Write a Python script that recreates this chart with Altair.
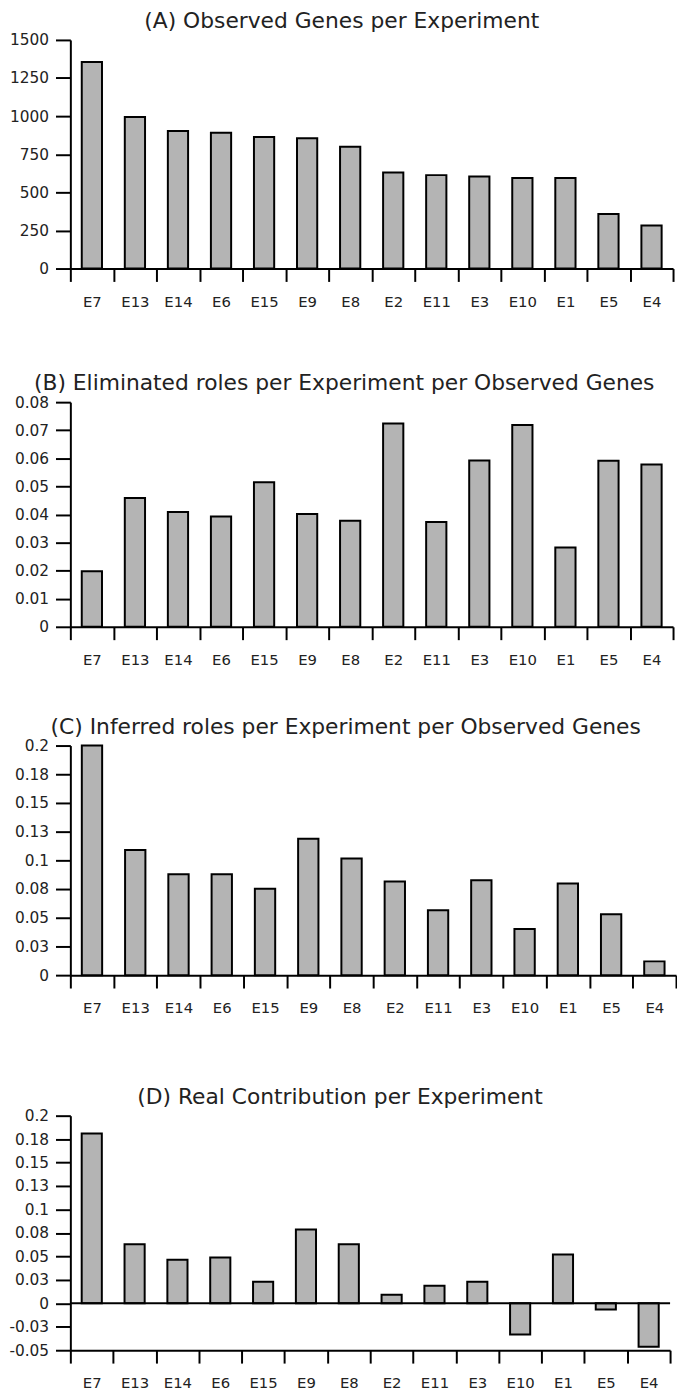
import altair as alt
import pandas as pd

experiments = ["E7", "E13", "E14", "E6", "E15", "E9", "E8", "E2", "E11", "E3", "E10", "E1", "E5", "E4"]

observed_genes = [1355, 995, 902, 891, 863, 855, 799, 630, 613, 604, 594, 594, 358, 283]
eliminated_roles = [0.0198, 0.0459, 0.0409, 0.0393, 0.0515, 0.0402, 0.0378, 0.0724, 0.0373,
                    0.0592, 0.0719, 0.0282, 0.0591, 0.0578]
inferred_roles = [0.2, 0.109, 0.0878, 0.0878, 0.0752, 0.1188, 0.1016, 0.0815, 0.0565,
                  0.0826, 0.0402, 0.0798, 0.0531, 0.012]
real_contribution = [0.181, 0.063, 0.0464, 0.0489, 0.023, 0.0786, 0.063, 0.0092, 0.0188,
                     0.023, -0.0333, 0.052, -0.0067, -0.0464]

titles = [
    "(A) Observed Genes per Experiment",
    "(B) Eliminated roles per Experiment per Observed Genes",
    "(C) Inferred roles per Experiment per Observed Genes",
    "(D) Real Contribution per Experiment",
]

a_ticks = [0, 250, 500, 750, 1000, 1250, 1500]
a_labels = ["0", "250", "500", "750", "1000", "1250", "1500"]
b_ticks = [0, 0.01, 0.02, 0.03, 0.04, 0.05, 0.06, 0.07, 0.08]
b_labels = ["0", "0.01", "0.02", "0.03", "0.04", "0.05", "0.06", "0.07", "0.08"]
c_ticks = [0, 0.025, 0.05, 0.075, 0.1, 0.125, 0.15, 0.175, 0.2]
c_labels = ["0", "0.03", "0.05", "0.08", "0.1", "0.13", "0.15", "0.18", "0.2"]
d_ticks = [-0.05, -0.025, 0, 0.025, 0.05, 0.075, 0.1, 0.125, 0.15, 0.175, 0.2]
d_labels = ["-0.05", "-0.03", "0", "0.03", "0.05", "0.08", "0.1", "0.13", "0.15", "0.18", "0.2"]

FONT = "DejaVu Sans"
TEXT = "#222222"
BAR_FILL = "#b4b4b4"


def label_expr(ticks, labels):
    expr = "''"
    for t, lab in reversed(list(zip(ticks, labels))):
        expr = f"abs(datum.value - ({t})) < 1e-9 ? '{lab}' : ({expr})"
    return expr


def panel(values, title, domain, ticks, labels, width, height, zero_rule=False):
    df = pd.DataFrame({"exp": experiments, "v": values})
    x = alt.X(
        "exp:N", sort=experiments, title=None,
        scale=alt.Scale(paddingInner=0, paddingOuter=0),
        axis=alt.Axis(tickBand="extent", tickExtra=False, labelAngle=0, tickSize=13,
                      labelPadding=13, labelFontSize=15, labelFont=FONT, labelColor=TEXT,
                      domainColor="black", domainWidth=2, tickColor="black", tickWidth=2),
    )
    y = alt.Y(
        "v:Q", title=None,
        scale=alt.Scale(domain=domain, nice=False, zero=False),
        axis=alt.Axis(values=ticks, labelExpr=label_expr(ticks, labels), tickSize=15,
                      labelPadding=7, labelFontSize=15.5, labelFont=FONT, labelColor=TEXT,
                      domainColor="black", domainWidth=2, tickColor="black", tickWidth=2,
                      grid=False),
    )
    bars = alt.Chart(df).mark_bar(
        width=alt.RelativeBandSize(0.47), fill=BAR_FILL, stroke="black", strokeWidth=2
    ).encode(x=x, y=y, y2=alt.datum(0))
    layers = [bars]
    if zero_rule:
        rule = alt.Chart(pd.DataFrame({"v": [0]})).mark_rule(
            color="black", strokeWidth=2
        ).encode(y=y)
        layers.append(rule)
    return alt.layer(*layers).properties(
        width=width, height=height,
        title=alt.TitleParams(title, fontSize=22, font=FONT, fontWeight="normal",
                              color=TEXT, anchor="middle", frame="bounds", offset=0),
    )


pa = panel(observed_genes, titles[0], [0, 1500], a_ticks, a_labels, 609, 231)
pb = panel(eliminated_roles, titles[1], [0, 0.08], b_ticks, b_labels, 609, 227)
pc = panel(inferred_roles, titles[2], [0, 0.2], c_ticks, c_labels, 612, 232)
pd_ = panel(real_contribution, titles[3], [-0.05, 0.2], d_ticks, d_labels, 606, 237, zero_rule=True)

chart = alt.vconcat(
    alt.concat(pa, pb, columns=1, spacing=64, align="none", bounds="full"),
    alt.concat(pc, pd_, columns=1, spacing=71, align="none", bounds="full"),
    spacing=49,
).properties(
    padding={"top": -5, "left": 0, "right": 0, "bottom": 0}
).configure(background="white", view=alt.ViewConfig(strokeWidth=0, stroke="transparent"))

chart.save("out.html", embed_options={"renderer": "svg", "actions": False})
